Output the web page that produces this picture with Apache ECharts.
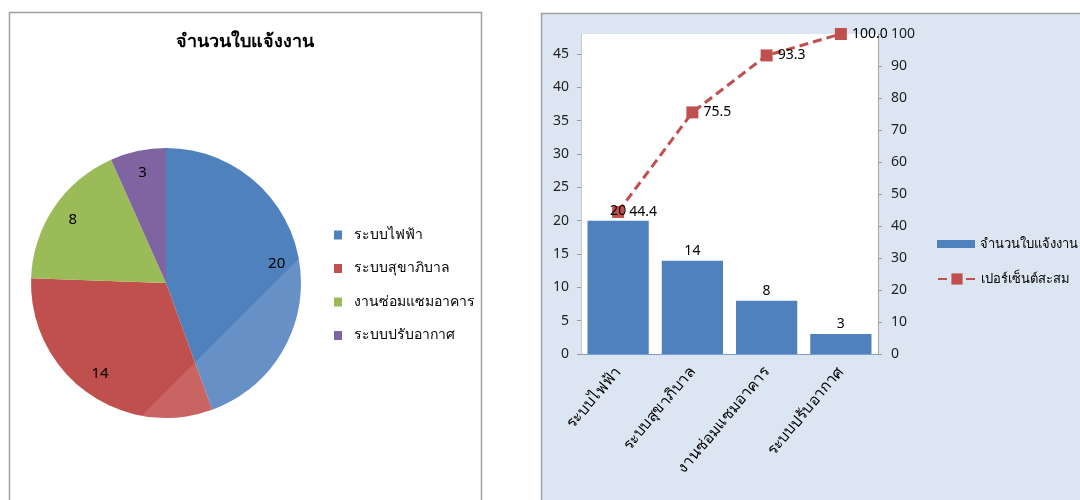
<!DOCTYPE html>
<html>
<head>
<meta charset="utf-8">
<title>จำนวนใบแจ้งงาน</title>
<script src="https://cdn.jsdelivr.net/npm/echarts@6/dist/echarts.min.js"></script>
<style>
  html, body { margin: 0; padding: 0; background: #fff; }
  #main { width: 1080px; height: 500px; }
</style>
</head>
<body>
<div id="main"></div>
<script>
// data
var categories = ['ระบบไฟฟ้า', 'ระบบสุขาภิบาล', 'งานซ่อมแซมอาคาร', 'ระบบปรับอากาศ']
var counts = [20, 14, 8, 3]
var cumPercent = [44.4, 75.5, 93.3, 100.0]
var leftTicks = [0, 5, 10, 15, 20, 25, 30, 35, 40, 45]
var countName = 'จำนวนใบแจ้งงาน'
var percentName = 'เปอร์เซ็นต์สะสม'

var font = 'Tahoma, "Noto Sans", "DejaVu Sans", sans-serif'
var sliceColors = ['#4f81bd', '#c0504d', '#9bbb59', '#8064a2']
var sliceLight = ['#6690c6', '#c86462', '#9bbb59', '#8064a2']

// excel-like lighting: lower right part of the pie is lighter (hard edge along x + y = 557)
function lit (dark, light) {
  var t = (557 - 400) / 400
  return new echarts.graphic.LinearGradient(200, 200, 400, 400, [
    { offset: 0, color: dark },
    { offset: t, color: dark },
    { offset: t, color: light },
    { offset: 1, color: light }
  ], true)
}

var pieData = categories.map(function (name, i) {
  return { name: name, value: counts[i], itemStyle: { color: lit(sliceColors[i], sliceLight[i]) } }
})
var pieLabelData = categories.map(function (name, i) {
  return { name: name, value: counts[i] }
})

var R = 135

var chart = echarts.init(document.getElementById('main'))
var option = {
  animation: false,
  textStyle: { fontFamily: font },
  graphic: [
    {
      type: 'rect',
      z: -10,
      shape: { x: 9.5, y: 12.5, width: 472, height: 500 },
      style: { fill: '#fff', stroke: '#a0a0a0', lineWidth: 1.5 }
    },
    {
      type: 'rect',
      z: -10,
      shape: { x: 541.5, y: 13.5, width: 560, height: 500 },
      style: { fill: '#dce6f2', stroke: '#a0a0a0', lineWidth: 1.5 }
    }
  ],
  title: {
    text: countName,
    left: 245,
    top: 33,
    textAlign: 'center',
    padding: 0,
    textStyle: { fontSize: 18, fontWeight: 'bold', color: '#000', fontFamily: font }
  },
  legend: [
    {
      data: categories,
      orient: 'vertical',
      left: 329,
      top: 220,
      itemWidth: 8,
      itemHeight: 9,
      itemGap: 13.5,
      icon: 'rect',
      selectedMode: false,
      textStyle: { fontSize: 14, color: '#000', lineHeight: 20, padding: [0, 0, 0, 7] }
    },
    {
      data: [countName],
      left: 932,
      top: 230,
      itemWidth: 38,
      itemHeight: 8,
      icon: 'rect',
      selectedMode: false,
      textStyle: { fontSize: 13, color: '#000', lineHeight: 18 }
    },
    {
      data: [percentName],
      left: 932,
      top: 265,
      itemWidth: 38,
      itemHeight: 14,
      selectedMode: false,
      textStyle: { fontSize: 13, color: '#000', lineHeight: 18 }
    }
  ],
  grid: {
    left: 581,
    top: 34,
    width: 297,
    height: 320,
    show: true,
    backgroundColor: '#fff',
    borderWidth: 0
  },
  xAxis: {
    type: 'category',
    data: categories,
    axisLine: { lineStyle: { color: '#7b9fd0', width: 1 } },
    axisTick: { length: 5, lineStyle: { color: '#7b9fd0' } },
    axisLabel: { rotate: 50, interval: 0, fontSize: 15.5, color: '#000', margin: 15 }
  },
  yAxis: [
    {
      type: 'value',
      min: 0,
      max: 48,
      interval: 5,
      splitLine: { show: false },
      axisLine: { show: true, lineStyle: { color: '#c8c8c8' } },
      axisTick: { show: true, length: 4, customValues: leftTicks, lineStyle: { color: '#9a9a9a' } },
      axisLabel: { fontSize: 14, color: '#222', margin: 12, customValues: leftTicks }
    },
    {
      type: 'value',
      position: 'right',
      min: 0,
      max: 100,
      interval: 10,
      splitLine: { show: false },
      axisLine: { show: true, lineStyle: { color: '#a6a6a6' } },
      axisTick: { show: true, length: 4, lineStyle: { color: '#9a9a9a' } },
      axisLabel: { fontSize: 14, color: '#222', margin: 13 }
    }
  ],
  series: [
    {
      name: 'pie',
      type: 'pie',
      center: [166, 283],
      radius: [0, R],
      startAngle: 90,
      clockwise: true,
      silent: true,
      label: { show: false },
      labelLine: { show: false },
      data: pieData
    },
    {
      // transparent ring only used to put the value labels near the rim
      name: 'pieLabels',
      type: 'pie',
      center: [166, 283],
      radius: [R * 0.62, R],
      startAngle: 90,
      silent: true,
      itemStyle: { color: 'rgba(0,0,0,0)' },
      label: { show: true, position: 'inside', formatter: '{c}', fontSize: 15, color: '#000' },
      labelLine: { show: false },
      data: pieLabelData
    },
    {
      name: countName,
      type: 'bar',
      yAxisIndex: 0,
      data: counts,
      barCategoryGap: '17.5%',
      itemStyle: { color: '#4f81bd' },
      label: { show: true, position: 'top', distance: 3, fontSize: 14, color: '#000' },
      z: 6
    },
    {
      name: percentName,
      type: 'line',
      yAxisIndex: 1,
      data: cumPercent,
      symbol: 'rect',
      symbolSize: 12,
      itemStyle: { color: '#c0504d' },
      lineStyle: { color: '#c0504d', width: 3, type: [9, 5] },
      label: {
        show: true,
        position: 'right',
        distance: 5,
        fontSize: 14,
        color: '#000',
        formatter: function (p) { return p.value.toFixed(1) }
      },
      z: 5
    }
  ]
}
chart.setOption(option)
</script>
</body>
</html>
